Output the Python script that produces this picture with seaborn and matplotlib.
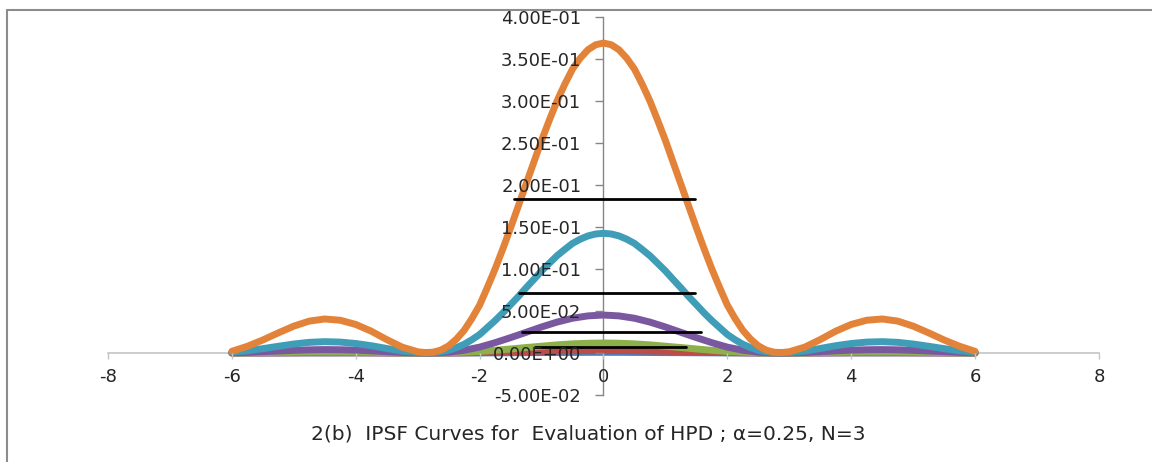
import matplotlib
matplotlib.use("Agg")
import matplotlib.pyplot as plt
from matplotlib.lines import Line2D
import seaborn as sns

# ---------------- data ----------------
# x positions for the small curves
x_vals = [-6.0, -5.75, -5.5, -5.25, -5.0, -4.75, -4.5, -4.25, -4.0, -3.75, -3.5, -3.25,
          -3.0, -2.75, -2.5, -2.25, -2.0, -1.75, -1.5, -1.25, -1.0, -0.75, -0.5, -0.25,
          0.0, 0.25, 0.5, 0.75, 1.0, 1.25, 1.5, 1.75, 2.0, 2.25, 2.5, 2.75,
          3.0, 3.25, 3.5, 3.75, 4.0, 4.25, 4.5, 4.75, 5.0, 5.25, 5.5, 5.75, 6.0]

# denser x positions for the two large curves (main lobe read every 0.125)
x_fine = [-6.0, -5.75, -5.5, -5.25, -5.0, -4.75, -4.5, -4.25, -4.0, -3.75, -3.5, -3.25, -3.0,
          -2.875, -2.75, -2.625, -2.5, -2.375, -2.25, -2.125, -2.0, -1.875, -1.75, -1.625,
          -1.5, -1.375, -1.25, -1.125, -1.0, -0.875, -0.75, -0.625, -0.5, -0.375, -0.25, -0.125,
          0.0,
          0.125, 0.25, 0.375, 0.5, 0.625, 0.75, 0.875, 1.0, 1.125, 1.25, 1.375, 1.5,
          1.625, 1.75, 1.875, 2.0, 2.125, 2.25, 2.375, 2.5, 2.625, 2.75, 2.875,
          3.0, 3.25, 3.5, 3.75, 4.0, 4.25, 4.5, 4.75, 5.0, 5.25, 5.5, 5.75, 6.0]

orange = [0.002, 0.008, 0.0155, 0.024, 0.032, 0.038, 0.0405, 0.039, 0.034, 0.026, 0.016, 0.007, 0.0015,
          0.0005, 0.001, 0.0035, 0.0085, 0.0165, 0.027, 0.041, 0.057, 0.078, 0.100, 0.124,
          0.149, 0.175, 0.201, 0.227, 0.253, 0.277, 0.300, 0.320, 0.338, 0.351, 0.361, 0.367,
          0.369,
          0.367, 0.361, 0.351, 0.338, 0.320, 0.300, 0.277, 0.253, 0.227, 0.201, 0.175, 0.149,
          0.124, 0.100, 0.078, 0.057, 0.041, 0.027, 0.0165, 0.0085, 0.0035, 0.001, 0.0005,
          0.0015, 0.007, 0.016, 0.026, 0.034, 0.039, 0.0405, 0.038, 0.032, 0.024, 0.0155, 0.008, 0.002]

teal = [0.0007, 0.0027, 0.0052, 0.008, 0.0107, 0.0127, 0.0135, 0.013, 0.0113, 0.0087, 0.0054, 0.0023, 0.0005,
        0.0003, 0.0004, 0.0014, 0.0033, 0.0064, 0.0104, 0.0158, 0.022, 0.0303, 0.0386, 0.0477,
        0.0575, 0.0672, 0.0776, 0.0875, 0.0977, 0.1068, 0.1158, 0.1233, 0.1305, 0.1355, 0.1394, 0.1417,
        0.1425,
        0.1417, 0.1394, 0.1355, 0.1305, 0.1233, 0.1158, 0.1068, 0.0977, 0.0875, 0.0776, 0.0672, 0.0575,
        0.0477, 0.0386, 0.0303, 0.022, 0.0158, 0.0104, 0.0064, 0.0033, 0.0014, 0.0004, 0.0003,
        0.0005, 0.0023, 0.0054, 0.0087, 0.0113, 0.013, 0.0135, 0.0127, 0.0107, 0.008, 0.0052, 0.0027, 0.0007]

purple = [0.0002, 0.0008, 0.0016, 0.0024, 0.0032, 0.0038, 0.0041, 0.0039, 0.0034, 0.0026, 0.0016, 0.0007,
          0.0002, 0.0001, 0.001, 0.0033, 0.007, 0.0123, 0.0183, 0.0246, 0.031, 0.0368, 0.0414, 0.0442,
          0.0452, 0.0442, 0.0414, 0.0368, 0.031, 0.0246, 0.0183, 0.0123, 0.007, 0.0033, 0.001, 0.0001,
          0.0002, 0.0007, 0.0016, 0.0026, 0.0034, 0.0039, 0.0041, 0.0038, 0.0032, 0.0024, 0.0016, 0.0008, 0.0002]

green = [0.0001, 0.0002, 0.0004, 0.0007, 0.0009, 0.0011, 0.0011, 0.0011, 0.001, 0.0008, 0.0005, 0.0002,
         0.0, 0.0, 0.0003, 0.0009, 0.0018, 0.0032, 0.0048, 0.0065, 0.0081, 0.0097, 0.0109, 0.0116,
         0.0119, 0.0116, 0.0109, 0.0097, 0.0081, 0.0065, 0.0048, 0.0032, 0.0018, 0.0009, 0.0003, 0.0,
         0.0, 0.0002, 0.0005, 0.0008, 0.001, 0.0011, 0.0011, 0.0011, 0.0009, 0.0007, 0.0004, 0.0002, 0.0001]

red = [0.0, 0.0001, 0.0001, 0.0002, 0.0002, 0.0003, 0.0003, 0.0003, 0.0003, 0.0002, 0.0001, 0.0001,
       0.0, 0.0, 0.0001, 0.0002, 0.0005, 0.0008, 0.0012, 0.0017, 0.0021, 0.0025, 0.0028, 0.003,
       0.0031, 0.003, 0.0028, 0.0025, 0.0021, 0.0017, 0.0012, 0.0008, 0.0005, 0.0002, 0.0001, 0.0,
       0.0, 0.0001, 0.0001, 0.0002, 0.0003, 0.0003, 0.0003, 0.0003, 0.0002, 0.0002, 0.0001, 0.0001, 0.0]

blue = [0.0, 0.0, 0.0, 0.0, 0.0001, 0.0001, 0.0001, 0.0001, 0.0001, 0.0001, 0.0, 0.0,
        0.0, 0.0, 0.0, 0.0001, 0.0001, 0.0002, 0.0003, 0.0004, 0.0005, 0.0006, 0.0007, 0.0008,
        0.0008, 0.0008, 0.0007, 0.0006, 0.0005, 0.0004, 0.0003, 0.0002, 0.0001, 0.0001, 0.0, 0.0,
        0.0, 0.0, 0.0, 0.0001, 0.0001, 0.0001, 0.0001, 0.0001, 0.0001, 0.0, 0.0, 0.0, 0.0]

# HPD horizontal lines
hpd_level = [0.183, 0.0714, 0.0254, 0.0075]
hpd_left = [-1.45, -1.36, -1.32, -1.10]
hpd_right = [1.48, 1.48, 1.58, 1.34]

x_ticks = [-8, -6, -4, -2, 0, 2, 4, 6, 8]
y_ticks = [-0.05, 0.0, 0.05, 0.10, 0.15, 0.20, 0.25, 0.30, 0.35, 0.40]

title = "2(b)  IPSF Curves for  Evaluation of HPD ; \u03b1=0.25, N=3"

# ---------------- style ----------------
sns.set_style("white")
plt.rcParams["font.family"] = ["DejaVu Sans"]

fig = plt.figure(figsize=(11.52, 4.62), dpi=100)
ax = fig.add_axes([0.09375, 0.145, 0.8602, 0.8182])

series = [
    (x_vals, blue, "#4A7EBB"),
    (x_vals, red, "#BE4B48"),
    (x_vals, green, "#8DB04A"),
    (x_vals, purple, "#7A58A0"),
    (x_fine, teal, "#3F9DB8"),
    (x_fine, orange, "#E3833A"),
]
for xs, vals, col in series:
    sns.lineplot(x=xs, y=vals, ax=ax, color=col, linewidth=5.0, zorder=3,
                 solid_capstyle="round", solid_joinstyle="round",
                 estimator=None, sort=False)

for lvl, xl, xr in zip(hpd_level, hpd_left, hpd_right):
    sns.lineplot(x=[xl, xr], y=[lvl, lvl], ax=ax, color="black", linewidth=2.0,
                 zorder=4, estimator=None, sort=False)

ax.set_xlim(-8, 8)
ax.set_ylim(-0.05, 0.4)

for s in ["top", "right"]:
    ax.spines[s].set_visible(False)
ax.spines["left"].set_position(("data", 0))
ax.spines["bottom"].set_position(("data", 0))
ax.spines["left"].set_color("#868686")
ax.spines["bottom"].set_color("#C4C4C4")
ax.spines["left"].set_linewidth(1.0)
ax.spines["bottom"].set_linewidth(1.2)
ax.spines["left"].set_zorder(2.5)
ax.spines["bottom"].set_zorder(2.5)

ax.set_xticks(x_ticks)
ax.set_xticklabels([str(t) for t in x_ticks])
ax.set_yticks(y_ticks)
ax.set_yticklabels([f"{v:.2E}" for v in y_ticks])

ax.tick_params(axis="y", direction="out", length=6, width=1, color="#868686",
               pad=10, labelsize=13, labelcolor="#262626", left=True)
ax.tick_params(axis="x", direction="out", length=4, width=1, color="#C4C4C4",
               pad=7, labelsize=13, labelcolor="#262626", bottom=True)
ax.grid(False)
ax.set_facecolor("white")
ax.patch.set_alpha(0)
ax.yaxis.set_zorder(5)
ax.xaxis.set_zorder(5)

fig.text(588 / 1152, 1 - 434 / 462, title, ha="center", va="center",
         fontsize=14.5, color="#262626")

# outer frame (top and left only visible)
fig.add_artist(Line2D([7 / 1152, 7 / 1152], [0, 1 - 9.5 / 462],
                      transform=fig.transFigure, color="#8C8C8C", linewidth=1.5))
fig.add_artist(Line2D([7 / 1152, 1], [1 - 9.5 / 462, 1 - 9.5 / 462],
                      transform=fig.transFigure, color="#8C8C8C", linewidth=1.5))

fig.savefig("out.png", dpi=100, facecolor="white")
